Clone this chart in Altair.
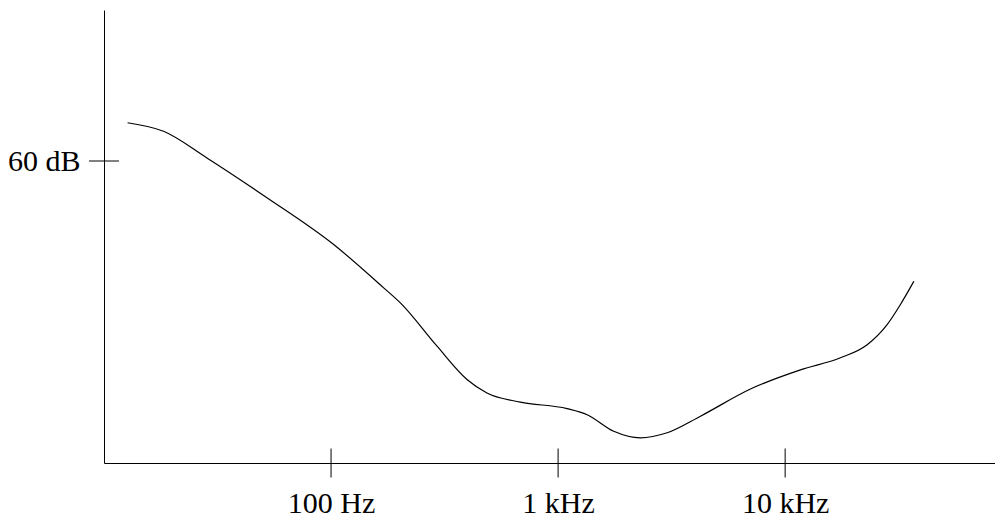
import altair as alt
import pandas as pd

# Hearing threshold curve
freq_hz = [12.7, 18.3, 28.4, 52.2, 102.7, 170.5, 202, 293, 397, 486, 682, 1095, 1342,
           1758, 2305, 3021, 4236, 7034, 11680, 17530, 22970, 28130, 32200, 36890]
level_db = [67.6, 65.9, 60.6, 52.7, 43.4, 34.8, 31.8, 23.2, 16.6, 13.9, 12.1, 10.8, 9.6,
            6.3, 5.0, 6.0, 9.3, 14.7, 18.5, 20.9, 23.5, 27.5, 31.5, 36.1]

x_tick_values = [100, 1000, 10000]
x_tick_labels = ["100 Hz", "1 kHz", "10 kHz"]
y_tick_values = [60]
y_tick_labels = ["60 dB"]

curve = pd.DataFrame({"freq": freq_hz, "db": level_db})
xt = pd.DataFrame({"freq": x_tick_values})
yt = pd.DataFrame({"db": y_tick_values})

FONT = "Liberation Serif"
FS = 30


def label_expr(values, labels):
    expr = "''"
    for v, l in reversed(list(zip(values, labels))):
        expr = f"datum.value == {v} ? '{l}' : ({expr})"
    return expr


xscale = alt.Scale(type="log", domain=[10, 84000], nice=False)
yscale = alt.Scale(domain=[0, 90], nice=False, zero=False)

xaxis = alt.Axis(values=x_tick_values, labelExpr=label_expr(x_tick_values, x_tick_labels),
                 ticks=False, grid=False, domain=True, domainColor="black", domainWidth=1,
                 labelFont=FONT, labelFontSize=FS, labelColor="black", labelPadding=25,
                 title=None, labelFlush=False)
yaxis = alt.Axis(values=y_tick_values, labelExpr=label_expr(y_tick_values, y_tick_labels),
                 ticks=False, grid=False, domain=True, domainColor="black", domainWidth=1,
                 labelFont=FONT, labelFontSize=FS, labelColor="black", labelPadding=24,
                 title=None, labelFlush=False)

line = alt.Chart(curve).mark_line(color="black", strokeWidth=1.2, interpolate="monotone").encode(
    x=alt.X("freq:Q", scale=xscale, axis=xaxis),
    y=alt.Y("db:Q", scale=yscale, axis=yaxis),
)

xticks = alt.Chart(xt).mark_tick(orient="vertical", size=29, thickness=1, color="black", opacity=1).encode(
    x=alt.X("freq:Q", scale=xscale),
    y=alt.datum(0),
)

yticks = alt.Chart(yt).mark_tick(orient="horizontal", size=30, thickness=1, color="black", opacity=1).encode(
    x=alt.datum(10),
    y=alt.Y("db:Q", scale=yscale),
)

chart = alt.layer(line, xticks, yticks).properties(
    width=891, height=453,
    background="white",
    autosize=alt.AutoSizeParams(type="none"),
    padding={"left": 96, "top": 2, "right": 0, "bottom": 54},
).configure_view(stroke="transparent", strokeWidth=0).configure_axis(grid=False)

chart.save("out.html", embed_options={"renderer": "svg", "actions": False})
